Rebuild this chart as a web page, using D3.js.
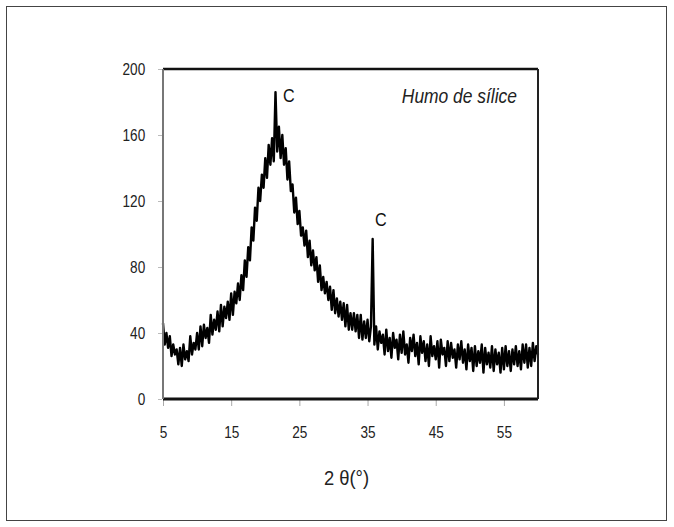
<!DOCTYPE html>
<html>
<head>
<meta charset="utf-8">
<script src="https://cdn.jsdelivr.net/npm/d3@7"></script>
<style>
  html, body { margin: 0; padding: 0; background: #fff; }
  svg { display: block; }
  text { font-family: 'Liberation Sans', Arial, sans-serif; }
</style>
</head>
<body>
<div id="chart"></div>
<script>
// 2θ start / step of the scan, intensity every 0.25°
const thetaStart = 5;
const thetaStep = 0.25;
const intensity = [
  46, 33, 40, 31, // 5
  38, 26, 33, 27, // 6
  30, 21, 31, 20, // 7
  33, 24, 29, 23, // 8
  38, 27, 34, 30, // 9
  40, 30, 44, 32, // 10
  45, 37, 43, 34, // 11
  51, 39, 48, 42, // 12
  53, 41, 57, 44, // 13
  56, 49, 59, 48, // 14
  64, 51, 65, 58, // 15
  70, 60, 75, 66, // 16
  84, 74, 92, 84, // 17
  104, 96, 116, 108, // 18
  128, 120, 136, 128, // 19
  146, 134, 154, 142, // 20
  158, 144, 186, 150, // 21
  165, 146, 160, 142, // 22
  152, 133, 144, 126, // 23
  130, 113, 122, 106, // 24
  114, 99, 104, 93, // 25
  102, 86, 96, 81, // 26
  90, 78, 86, 71, // 27
  81, 66, 74, 64, // 28
  71, 60, 68, 54, // 29
  66, 52, 61, 50, // 30
  59, 48, 58, 44, // 31
  57, 42, 52, 42, // 32
  52, 41, 51, 37, // 33
  51, 36, 47, 37, // 34
  48, 35, 44, 97, // 35
  33, 44, 30, 41, // 36
  34, 39, 27, 42, // 37
  29, 37, 25, 40, // 38
  31, 36, 24, 39, // 39
  28, 41, 27, 33, // 40
  22, 37, 29, 39, // 41
  26, 34, 21, 38, // 42
  28, 35, 23, 33, // 43
  20, 38, 26, 32, // 44
  24, 35, 19, 36, // 45
  27, 31, 20, 35, // 46
  23, 34, 25, 30, // 47
  19, 33, 24, 35, // 48
  22, 30, 18, 33, // 49
  23, 31, 17, 32, // 50
  20, 29, 22, 33, // 51
  16, 31, 21, 28, // 52
  19, 32, 17, 30, // 53
  21, 28, 16, 31, // 54
  18, 32, 20, 29, // 55
  17, 30, 21, 32, // 56
  20, 29, 18, 33, // 57
  22, 33, 19, 31, // 58
  20, 34, 23, 32, // 59
  27              // 60
];
const xTicks = [5, 15, 25, 35, 45, 55];
const yTicks = [0, 40, 80, 120, 160, 200];
// peak marks, placed at (2θ, counts) of the letter
const peakLabels = [
  { theta: 22.6, value: 180, text: 'C' },
  { theta: 36.1, value: 105, text: 'C' },
];
const sampleName = 'Humo de sílice';
const xTitle = '2 θ(°)';

const width = 674;
const height = 527;
const margin = { top: 69, right: 136, bottom: 128, left: 163 };
const narrow = 0.8; // the scanned figure has tall, squeezed lettering

const data = intensity.map((v, i) => ({ theta: thetaStart + i * thetaStep, value: v }));

const x = d3.scaleLinear()
  .domain([5, 60])
  .range([margin.left, width - margin.right]);

const y = d3.scaleLinear()
  .domain([0, 200])
  .range([height - margin.bottom, margin.top]);

const svg = d3.select('#chart').append('svg')
  .attr('width', width)
  .attr('height', height)
  .attr('viewBox', [0, 0, width, height]);

// outer frame of the figure
svg.append('rect')
  .attr('x', 6.5)
  .attr('y', 6.5)
  .attr('width', 660)
  .attr('height', 514)
  .attr('fill', 'none')
  .attr('stroke', '#444')
  .attr('stroke-width', 1);

/* AXES */

svg.append('g')
  .attr('transform', `translate(0, ${y(0) + 1})`)
  .call(d3.axisBottom(x)
    .tickValues(xTicks)
    .tickSize(6)
    .tickPadding(20))
  .call((g) => g.select('.domain').remove())
  .call((g) => g.selectAll('.tick line').attr('stroke', '#aaa'))
  .call((g) => g.selectAll('.tick text')
    .attr('font-size', 17)
    .attr('font-family', "'Liberation Sans', Arial, sans-serif")
    .attr('fill', '#222')
    .attr('transform', `scale(${narrow}, 1)`));

svg.append('g')
  .attr('transform', `translate(${x(5) - 1}, 0)`)
  .call(d3.axisLeft(y)
    .tickValues(yTicks)
    .tickSize(4)
    .tickPadding(17))
  .call((g) => g.select('.domain').remove())
  .call((g) => g.selectAll('.tick line').attr('stroke', '#bbb'))
  .call((g) => g.selectAll('.tick text')
    .attr('font-size', 17)
    .attr('font-family', "'Liberation Sans', Arial, sans-serif")
    .attr('fill', '#222')
    .attr('transform', `scale(${narrow}, 1)`));

/* PATTERN */

const line = d3.line()
  .x((d) => x(d.theta))
  .y((d) => y(d.value));

svg.append('path')
  .datum(data)
  .attr('fill', 'none')
  .attr('stroke', '#000')
  .attr('stroke-width', 2.4)
  .attr('stroke-linejoin', 'round')
  .attr('d', line);

/* PLOT FRAME */

const [x0, x1] = x.range();
const [yb, yt] = y.range();

svg.append('line')
  .attr('x1', x0).attr('x2', x1)
  .attr('y1', yt).attr('y2', yt)
  .attr('stroke', '#111').attr('stroke-width', 2.5);

svg.append('line')
  .attr('x1', x0).attr('x2', x1)
  .attr('y1', yb).attr('y2', yb)
  .attr('stroke', '#111').attr('stroke-width', 3);

svg.append('line')
  .attr('x1', x0).attr('x2', x0)
  .attr('y1', yt).attr('y2', yb)
  .attr('stroke', '#777').attr('stroke-width', 2);

svg.append('line')
  .attr('x1', x1).attr('x2', x1)
  .attr('y1', yt).attr('y2', yb)
  .attr('stroke', '#222').attr('stroke-width', 2);

/* LABELS */

svg.selectAll('.peak')
  .data(peakLabels)
  .join('text')
  .attr('class', 'peak')
  .attr('transform', (d) => `translate(${x(d.theta)}, ${y(d.value)}) scale(0.85, 1)`)
  .attr('font-size', 19)
  .attr('fill', '#111')
  .text((d) => d.text);

svg.append('text')
  .attr('transform', `translate(${x(60) - 21}, 103) scale(0.83, 1)`)
  .attr('text-anchor', 'end')
  .attr('font-style', 'italic')
  .attr('font-size', 21)
  .attr('fill', '#222')
  .text(sampleName);

svg.append('text')
  .attr('transform', `translate(${(x0 + x1) / 2 - 4}, 485) scale(0.92, 1)`)
  .attr('text-anchor', 'middle')
  .attr('font-size', 20)
  .attr('fill', '#222')
  .text(xTitle);
</script>
</body>
</html>
